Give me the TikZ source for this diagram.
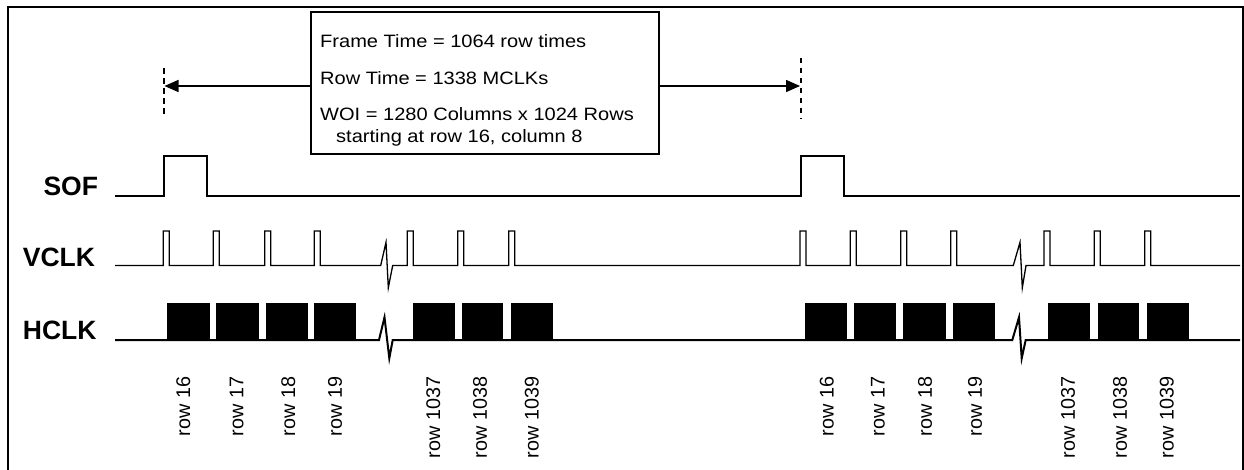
\documentclass[tikz,border=0pt]{standalone}
\usepackage{fontspec}
\setmainfont{Liberation Sans}
\newfontfamily\boxfont[FakeStretch=1.12]{Liberation Sans}
\usetikzlibrary{arrows.meta}
\tikzset{
  frame/.style={line width=2pt},
  sig/.style={line width=2pt, line join=miter},
  vsig/.style={line width=1.3pt, line join=miter},
  blk/.style={fill=black, draw=none},
  marker/.style={line width=1.8pt, dash pattern=on 5.5pt off 4.5pt},
  arr/.style={line width=1.5pt, -{Triangle[length=14pt,width=12pt]}},
  infobox/.style={draw, line width=2pt, minimum width=348pt, minimum height=142pt, inner sep=0pt},
  boxtxt/.style={anchor=base west, inner sep=0pt, font=\boxfont\fontsize{17.9}{20}\selectfont},
  siglab/.style={anchor=base west, inner sep=0pt, font=\bfseries\fontsize{26.5}{30}\selectfont},
  rowlab/.style={rotate=90, anchor=east, inner sep=0pt, font=\fontsize{19.8}{22}\selectfont}
}
\begin{document}
\begin{tikzpicture}[x=1pt, y=-1pt]
\useasboundingbox (0,0) rectangle (1244,470);
% outer frame
\draw[frame] (8,470) -- (8,7.3) -- (1242.5,7.3) -- (1242.5,470);

% info box
\node[infobox] (info) at (485,83.3) {};
\node[boxtxt] (t1) at (320,48) {Frame Time = 1064 row times};
\node[boxtxt] (t2) at (320,85) {Row Time = 1338 MCLKs};
\node[boxtxt] (t3) at (320,120.5) {WOI = 1280 Columns x 1024 Rows};
\node[boxtxt] (t4) at (336,143) {starting at row 16, column 8};

% frame markers
\draw[marker] (164,68.3) -- (164,118.3);
\draw[marker] (800.7,58) -- (800.7,118.3);
\coordinate (la) at (164.5,86);
\coordinate (ra) at (800,86);
\draw[arr] (info.west |- la) -- (la);
\draw[arr] (info.east |- ra) -- (ra);

% signal labels
\node[siglab] (sof) at (43.3,195.5) {SOF};
\node[siglab] (vclk) at (22.7,266.5) {VCLK};
\node[siglab] (hclk) at (22.7,339.5) {HCLK};

% SOF
\draw[sig] (115,196) -- (164,196) -- (164,155.7) -- (207,155.7) -- (207,196)
  -- (800.7,196) -- (800.7,155.7) -- (844,155.7) -- (844,196) -- (1240,196);

% VCLK
\def\vlo{265.5}\def\vhi{231}
\draw[vsig] (115,\vlo)
  \foreach \x in {163.3,213.3,264.7,314.3} { -- (\x,\vlo) -- (\x,\vhi) -- (\x+6,\vhi) -- (\x+6,\vlo) }
  -- (380.7,\vlo) -- (386,242.3) -- (388.3,287.7) -- (392.7,\vlo)
  \foreach \x in {407.3,457.7,508.7} { -- (\x,\vlo) -- (\x,\vhi) -- (\x+6,\vhi) -- (\x+6,\vlo) }
  \foreach \x in {800,850.3,900.7,950.7} { -- (\x,\vlo) -- (\x,\vhi) -- (\x+6,\vhi) -- (\x+6,\vlo) }
  -- (1013.3,\vlo) -- (1020,242.3) -- (1022.3,287.7) -- (1026,\vlo)
  \foreach \x in {1044,1094.3,1144.7} { -- (\x,\vlo) -- (\x,\vhi) -- (\x+6,\vhi) -- (\x+6,\vlo) }
  -- (1240,\vlo);

% HCLK
\def\hlo{340}\def\hhi{302.5}
\foreach \a/\b in {167.3/210,216/259,265.7/308.3,314/356,413.3/455,462.3/503.3,511.3/552.7,
  805.3/847,854/895.7,903.3/945.7,953.3/995,1048.3/1090,1098.3/1139.3,1146.7/1189}
  { \fill[blk] (\a,\hhi) rectangle (\b,\hlo); }
\draw[sig] (115,\hlo) -- (379,\hlo) -- (384.5,317.3) -- (389.3,358.3) -- (392.7,\hlo)
  -- (1012.3,\hlo) -- (1019,317.3) -- (1021.7,358.3) -- (1025.7,\hlo) -- (1240,\hlo);

% row labels
\foreach \x/\lab [count=\i] in {183.3/row 16,236.7/row 17,288.3/row 18,335/row 19,
  433.3/row 1037,480/row 1038,531.7/row 1039,
  826.7/row 16,878/row 17,925/row 18,975/row 19,
  1068/row 1037,1120/row 1038,1166.7/row 1039}
  { \node[rowlab] (r\i) at (\x,376.5) {\lab}; }
\end{tikzpicture}
\end{document}
